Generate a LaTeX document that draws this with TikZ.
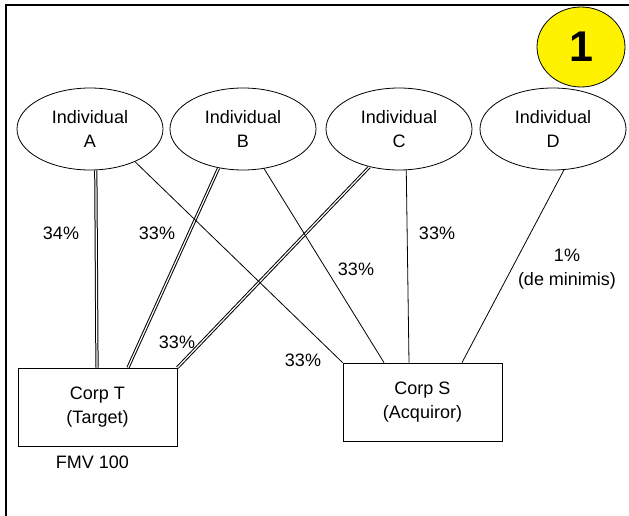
\documentclass[tikz,border=0pt]{standalone}
\usepackage{fontspec}
\setmainfont{Liberation Sans}
\usetikzlibrary{shapes.geometric}

\begin{document}
\begin{tikzpicture}[x=1pt, y=-1pt, line width=0.8pt,
        person/.style={ellipse,draw,minimum width=146pt,minimum height=82pt,inner sep=0pt,align=center,font=\fontsize{18}{24}\selectfont},
        corp/.style={rectangle,draw,minimum width=159pt,minimum height=78pt,align=center,font=\fontsize{18}{24}\selectfont},
        share/.style={align=center,font=\fontsize{18}{24}\selectfont},
        dbl/.style={double,line width=1pt,double distance=1.2pt}]
                \useasboundingbox (0,0) rectangle (629,516);
                % Frame
                \draw[line width=1.5pt] (629,5) -- (6,5) -- (6,516);
                % Step number
                \node[ellipse,draw,fill=yellow,minimum width=88pt,minimum height=80pt,font=\fontsize{43}{43}\selectfont\bfseries] (step) at (581,47) {1};
                % Shareholders
                \node[person] (A) at (90,129) {Individual\\A};
                \node[person] (B) at (243,129) {Individual\\B};
                \node[person] (C) at (399,129) {Individual\\C};
                \node[person] (D) at (553,129) {Individual\\D};
                % Corporations
                \node[corp] (T) at (97.5,407) {Corp T\\(Target)};
                \node[corp] (S) at (422.5,402) {Corp S\\(Acquiror)};
                \node[share] (fmv) at (92.5,462) {FMV 100};
                % Holdings in Corp T
                \draw[dbl] (A.-82) -- ([xshift=-0.5pt]T.north);
                \draw[dbl] (B.-122) -- ([xshift=30.5pt]T.north);
                \draw[dbl] (C.-128) -- (T.north east);
                % Holdings in Corp S
                \draw (A.-36) -- (S.north west);
                \draw (B.-62) -- ([xshift=-38.5pt]S.north);
                \draw (C.-80) -- ([xshift=-13.5pt]S.north);
                \draw (D.-75) -- ([xshift=39.5pt]S.north);
                % Percentages
                \node[share] (pAT) at (61,233) {34\%};
                \node[share] (pBT) at (157,233) {33\%};
                \node[share] (pCT) at (177,342) {33\%};
                \node[share] (pAS) at (303,360) {33\%};
                \node[share] (pBS) at (356,269) {33\%};
                \node[share] (pCS) at (437,233) {33\%};
                \node[share] (pDS) at (567,269) {1\%\\(de minimis)};
            \end{tikzpicture}
\end{document}
